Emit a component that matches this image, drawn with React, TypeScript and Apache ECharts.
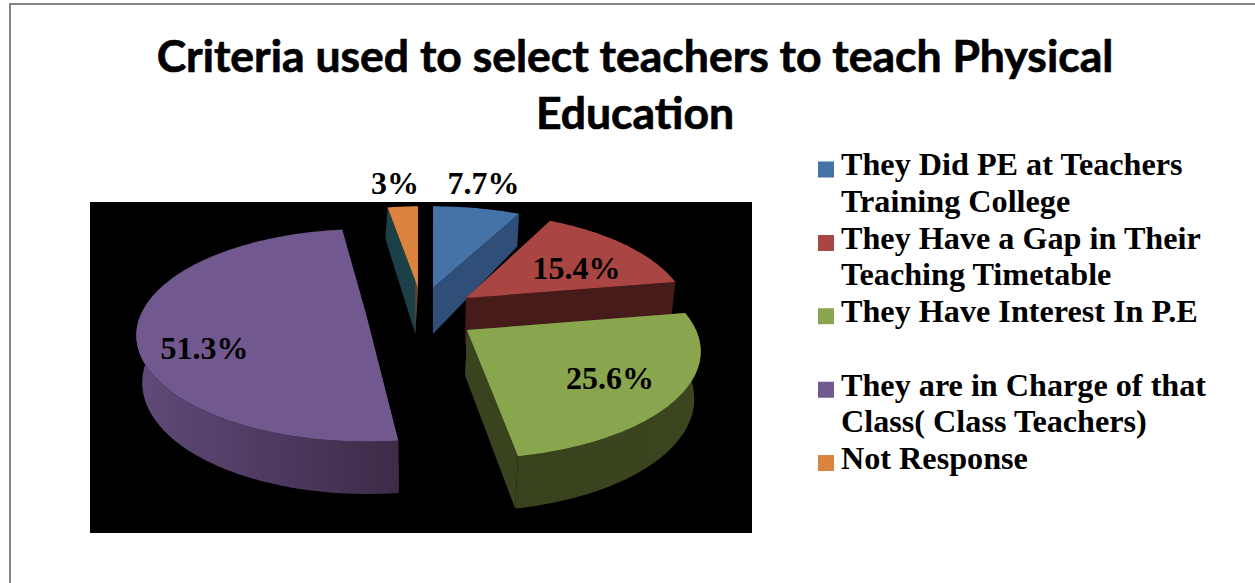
import React, { useEffect, useRef } from "react";
import * as echarts from "echarts";

const titleText = "Criteria used to select teachers to teach Physical\nEducation";
const sliceNames = [
  "They Did PE at Teachers Training College",
  "They Have a Gap in Their Teaching Timetable",
  "They Have Interest In P.E",
  "They are in Charge of that Class( Class Teachers)",
  "Not Response",
];
const legendLines = [
  "They Did PE at Teachers\nTraining College",
  "They Have a Gap in Their\nTeaching Timetable",
  "They Have Interest In P.E\n ",
  "They are in Charge of that\nClass( Class Teachers)",
  "Not Response\n ",
];
const sliceValues = [7.7, 15.4, 25.6, 51.3, 3];
const sliceLabels = ["7.7%", "15.4%", "25.6%", "51.3%", "3%"];

const topColors = ["#4573a7", "#a94543", "#89a54e", "#71588f", "#db843d"];
const startCutColors = ["#2f4f78", "#471b19", "#39441e", "#3e2c48", "#1c4048"];
const endCutColors = ["#2f4f78", "#471b19", "#39441e", "#3e2c48", "#6a431f"];
const wallStops = [
  ["#2f4f78", "#2f4f78"],
  ["#471b19", "#471b19"],
  ["#3b451f", "#38421d"],
  ["#604a7a", "#3d2b48"],
  ["#6a431f", "#6a431f"],
];

// Exploded-slice placement of the perspective pie (drawing layout, not data).
const sliceLayout = [
  { ox: 433, oy: 288, rx: 224, ry: 98, rot: 0, shift: 0, lx: 483.5, ly: 183 },
  { ox: 466, oy: 298, rx: 219, ry: 102, rot: 0, shift: 0, lx: 576.5, ly: 268 },
  { ox: 467, oy: 330, rx: 229, ry: 103, rot: -0.5, shift: -1, lx: 610, ly: 378 },
  { ox: 366, oy: 314, rx: 225, ry: 102, rot: 3.2, shift: 0, lx: 204.5, ly: 348 },
  { ox: 418, oy: 288, rx: 200, ry: 98, rot: 0, shift: -3, lx: 395, ly: 183 },
];

const PERSPECTIVE = 0.2;
const total = sliceValues.reduce((a, b) => a + b, 0);

function project(i: number, deg: number) {
  const l = sliceLayout[i];
  const t = ((deg + l.rot) * Math.PI) / 180;
  const u = Math.sin(t);
  const v = Math.cos(t);
  const w = 1 + PERSPECTIVE * v;
  const x = l.ox + (l.rx * u) / w;
  const y = l.oy - (l.ry * v) / w;
  return { x, y, v };
}

function lower(i: number, x: number, y: number, v: number): number[] {
  const depth = v > 0 ? 46 - 15 * v : 46 - 6.5 * v;
  return [x + (430 - x) * 0.02 + sliceLayout[i].shift, y + depth];
}

function makeItemRenderer(i: number) {
  return (_params: unknown, api: any) => {
    const value = api.value(0);
    const before = sliceValues.slice(0, i).reduce((a, b) => a + b, 0);
    const a0 = (before / total) * 360;
    const a1 = a0 + (value / total) * 360;
    const l = sliceLayout[i];

    const topArc: number[][] = [];
    const wallTop: number[][] = [];
    const wallBottom: number[][] = [];
    const steps = Math.ceil(a1 - a0);
    for (let s = 0; s <= steps; s++) {
      const p = project(i, a0 + ((a1 - a0) * s) / steps);
      topArc.push([p.x, p.y]);
      if (p.v <= 0.02) {
        wallTop.push([p.x, p.y]);
        wallBottom.push(lower(i, p.x, p.y, p.v));
      }
    }
    const apexTop = [l.ox, l.oy];
    const apexBottom = lower(i, l.ox, l.oy, 0);
    const first = project(i, a0);
    const last = project(i, a1);

    const children: any[] = [
      {
        type: "polygon",
        shape: {
          points: [apexTop, [first.x, first.y], lower(i, first.x, first.y, first.v), apexBottom],
        },
        style: { fill: startCutColors[i] },
      },
      {
        type: "polygon",
        shape: {
          points: [apexTop, [last.x, last.y], lower(i, last.x, last.y, last.v), apexBottom],
        },
        style: { fill: endCutColors[i] },
      },
    ];
    if (wallTop.length > 1) {
      children.push({
        type: "polygon",
        shape: { points: [...wallTop, ...wallBottom.slice().reverse()] },
        style: {
          fill:
            i === 3
              ? new echarts.graphic.LinearGradient(0, 0, 1, 0, [
                  { offset: 0, color: wallStops[i][0] },
                  { offset: 1, color: wallStops[i][1] },
                ])
              : new echarts.graphic.LinearGradient(0, 0, 1, 0, [
                  { offset: 0, color: wallStops[i][1] },
                  { offset: 1, color: wallStops[i][0] },
                ]),
        },
      });
    }
    children.push({
      type: "polygon",
      shape: { points: [apexTop, ...topArc] },
      style: { fill: topColors[i] },
    });
    children.push({
      type: "text",
      x: l.lx,
      y: l.ly,
      style: {
        text: sliceLabels[i],
        font: 'bold 32px "Liberation Serif"',
        fill: "#000000",
        align: "center",
        verticalAlign: "middle",
      },
    });
    return { type: "group", children };
  };
}

export default function App() {
  const ref = useRef<HTMLDivElement>(null);
  useEffect(() => {
    document.body.style.margin = "0";
    const chart = echarts.init(ref.current!, undefined, { renderer: "svg" });
    chart.setOption({
      animation: false,
      backgroundColor: "#ffffff",
      color: topColors,
      title: {
        text: titleText,
        left: 630,
        top: 21,
        textAlign: "center",
        textStyle: {
          fontFamily: "Lato",
          fontWeight: "bold",
          fontSize: 44.5,
          lineHeight: 57,
          color: "#000000",
          textBorderColor: "#000000",
          textBorderWidth: 0.7,
        },
      },
      legend: {
        orient: "vertical",
        left: 813,
        top: 141,
        itemGap: 0,
        itemWidth: 18,
        itemHeight: 73.4,
        symbolKeepAspect: false,
        icon: "path://M0 15.5H16V31.5H0Z M0 0L0 0 M18 73.4L18 73.4",
        data: sliceNames,
        selectedMode: false,
        formatter: (name: string) => legendLines[sliceNames.indexOf(name)],
        textStyle: {
          fontFamily: "Liberation Serif",
          fontWeight: "bold",
          fontSize: 32.2,
          lineHeight: 36.7,
          color: "#000000",
        },
      },
      graphic: [
        {
          type: "rect",
          z: 0,
          silent: true,
          shape: { x: 90, y: 202, width: 662, height: 331 },
          style: { fill: "#000000" },
        },
        {
          type: "polyline",
          z: 0,
          silent: true,
          shape: { points: [[10, 583], [10, 4], [1255, 4]] },
          style: { stroke: "#868686", lineWidth: 2, fill: "none" },
        },
      ],
      series: sliceNames.map((name, i) => ({
        type: "custom",
        name,
        coordinateSystem: "none",
        silent: true,
        z: 2 + i,
        itemStyle: { color: topColors[i] },
        data: [[sliceValues[i]]],
        renderItem: makeItemRenderer(i),
      })),
    });
    return () => chart.dispose();
  }, []);
  return <div ref={ref} style={{ width: 1255, height: 583 }} />;
}
